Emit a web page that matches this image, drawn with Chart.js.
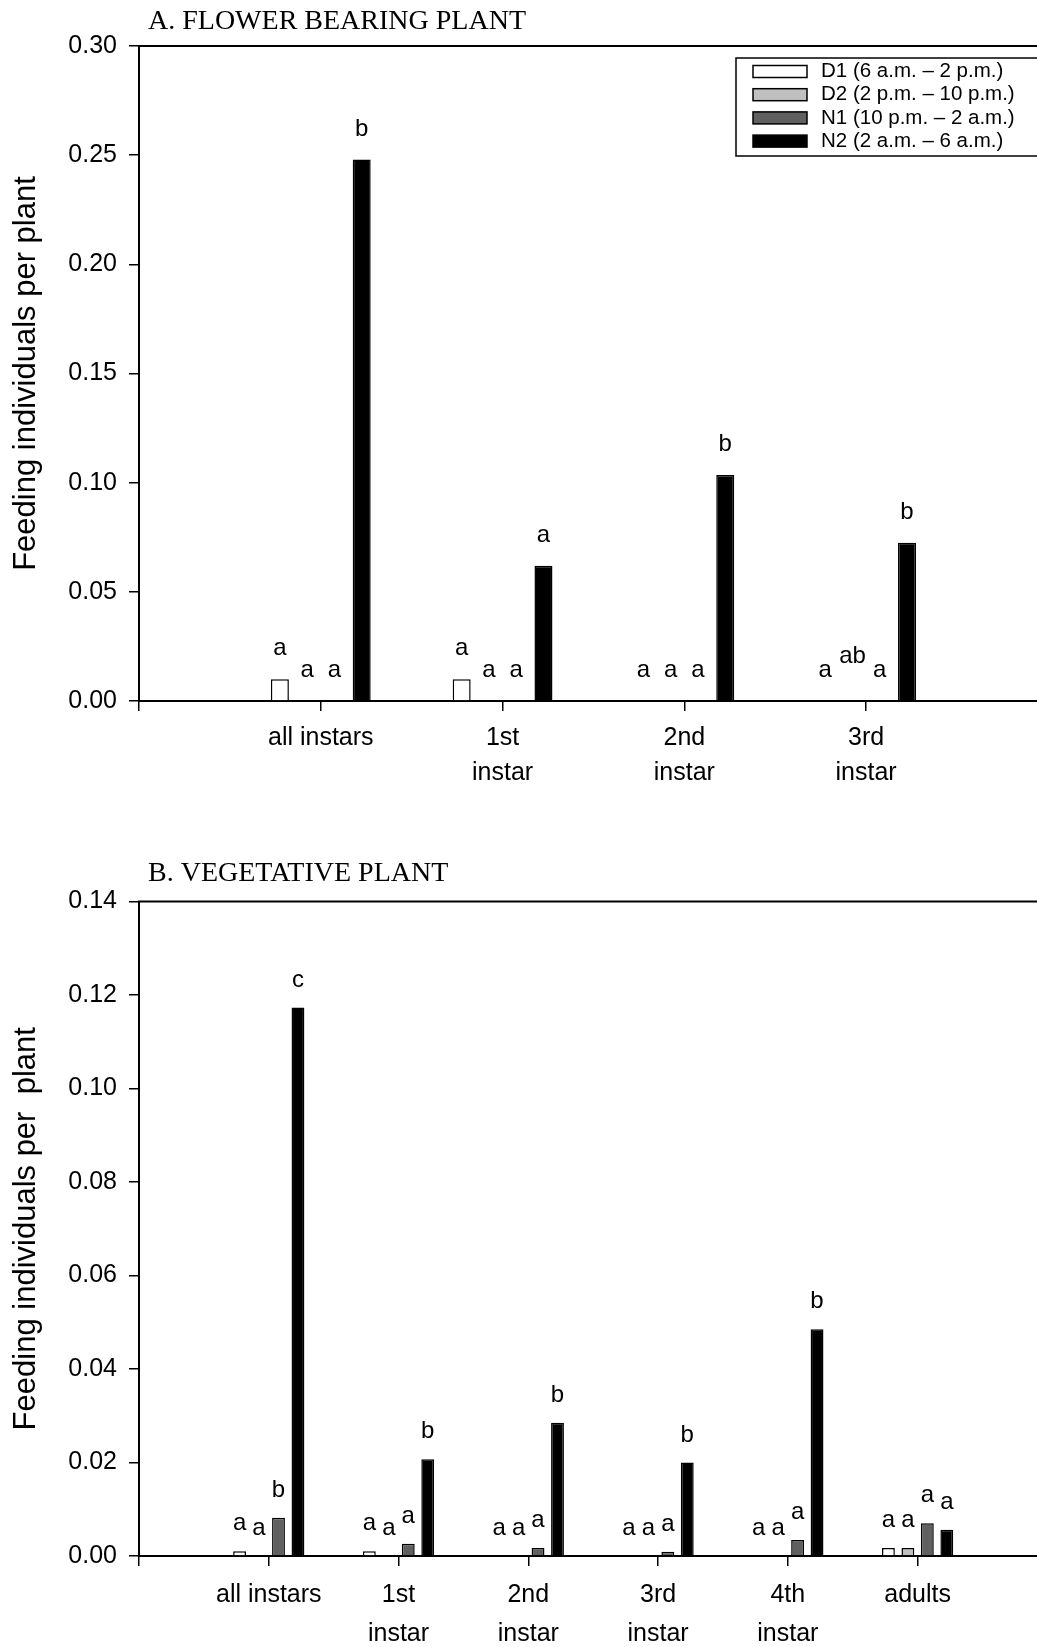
<!DOCTYPE html>
<html>
<head>
<meta charset="utf-8">
<script src="https://cdn.jsdelivr.net/npm/chart.js@4.4.0/dist/chart.umd.min.js"></script>
<style>
html, body { margin: 0; padding: 0; background: #fff; overflow: hidden; }
#wrapA { position: absolute; left: 0; top: 0; }
#wrapB { position: absolute; left: 0; top: 815px; }
</style>
</head>
<body>
<div id="wrapA"><canvas id="chartA" width="1037" height="815"></canvas></div>
<div id="wrapB"><canvas id="chartB" width="1037" height="832"></canvas></div>
<script>
'use strict';

const periods = ['D1 (6 a.m. – 2 p.m.)', 'D2 (2 p.m. – 10 p.m.)', 'N1 (10 p.m. – 2 a.m.)', 'N2 (2 a.m. – 6 a.m.)'];
const periodColors = ['#ffffff', '#c0c0c0', '#606060', '#000000'];

// A. flower bearing plant
const categoriesA = ['all instars', ['1st', 'instar'], ['2nd', 'instar'], ['3rd', 'instar']];
const d1A = [0.010, 0.010, 0, 0];
const d2A = [0, 0, 0, 0];
const n1A = [0, 0, 0, 0];
const n2A = [0.248, 0.062, 0.1035, 0.0725];
const lettersD1A = ['a', 'a', 'a', 'a'];
const lettersD2A = ['a', 'a', 'a', 'ab'];
const lettersN1A = ['a', 'a', 'a', 'a'];
const lettersN2A = ['b', 'a', 'b', 'b'];
const yTicksA = [0.00, 0.05, 0.10, 0.15, 0.20, 0.25, 0.30];

// B. vegetative plant
const categoriesB = ['all instars', ['1st', 'instar'], ['2nd', 'instar'], ['3rd', 'instar'], ['4th', 'instar'], 'adults'];
const d1B = [0.001, 0.001, 0, 0, 0, 0.0017];
const d2B = [0, 0, 0, 0, 0, 0.0017];
const n1B = [0.0082, 0.0026, 0.0017, 0.0009, 0.0034, 0.007];
const n2B = [0.1173, 0.0207, 0.0285, 0.020, 0.0485, 0.0056];
const lettersD1B = ['a', 'a', 'a', 'a', 'a', 'a'];
const lettersD2B = ['a', 'a', 'a', 'a', 'a', 'a'];
const lettersN1B = ['b', 'a', 'a', 'a', 'a', 'a'];
const lettersN2B = ['c', 'b', 'b', 'b', 'b', 'a'];
const yTicksB = [0.00, 0.02, 0.04, 0.06, 0.08, 0.10, 0.12, 0.14];

const sans = "'Liberation Sans', Arial, sans-serif";
const serif = "'Liberation Serif', 'Times New Roman', serif";

const frameTop = {
    id: 'frameTop',
    afterDraw(chart) {
        let a = chart.chartArea;
        let ctx = chart.ctx;
        ctx.save();
        ctx.strokeStyle = '#000';
        ctx.lineWidth = 2;
        ctx.beginPath();
        ctx.moveTo(a.left - 1, a.top);
        ctx.lineTo(a.right, a.top);
        ctx.stroke();
        ctx.restore();
    }
};

const panelTitle = {
    id: 'panelTitle',
    afterDraw(chart, args, opts) {
        let ctx = chart.ctx;
        ctx.save();
        ctx.fillStyle = '#000';
        ctx.font = '28px ' + serif;
        ctx.textBaseline = 'middle';
        ctx.fillText(opts.text, chart.chartArea.left + 9, chart.chartArea.top - opts.rise);
        ctx.restore();
    }
};

// significance letters above each bar; a two-letter mark sits a little higher
const barLetters = {
    id: 'barLetters',
    afterDatasetsDraw(chart, args, opts) {
        let ctx = chart.ctx;
        ctx.save();
        ctx.fillStyle = '#000';
        ctx.font = '24px ' + sans;
        ctx.textAlign = 'center';
        ctx.textBaseline = 'alphabetic';
        opts.letters.forEach((row, d) => {
            let meta = chart.getDatasetMeta(d);
            row.forEach((txt, j) => {
                let bar = meta.data[j];
                let lift = txt.length > 1 ? 14 : 0;
                ctx.fillText(txt, bar.x, bar.y - opts.gap - lift);
            });
        });
        ctx.restore();
    }
};

const boxLegend = {
    id: 'boxLegend',
    afterDraw(chart, args, opts) {
        if (!opts.show) return;
        let ctx = chart.ctx;
        let a = chart.chartArea;
        let x0 = a.right - 301;
        let y0 = a.top + 12;
        ctx.save();
        ctx.strokeStyle = '#000';
        ctx.lineWidth = 1.5;
        ctx.strokeRect(x0, y0, 320, 98);
        ctx.font = '20.5px ' + sans;
        ctx.textBaseline = 'middle';
        chart.data.datasets.forEach((ds, i) => {
            let cy = y0 + 13.5 + i * 23.2;
            ctx.fillStyle = ds.backgroundColor;
            ctx.fillRect(x0 + 17, cy - 6, 54, 12);
            ctx.lineWidth = 1.5;
            ctx.strokeRect(x0 + 17, cy - 6, 54, 12);
            ctx.fillStyle = '#000';
            ctx.fillText(ds.label, x0 + 85, cy);
        });
        ctx.restore();
    }
};

function makeChart(canvasId, cats, series, letters, yTicks, cfg) {
    let datasets = series.map((vals, i) => ({
        label: periods[i],
        data: vals.map((v, j) => ({ x: j + 1, y: v })),
        backgroundColor: periodColors[i],
        borderColor: '#000',
        borderWidth: 1.5,
        categoryPercentage: 0.6,
        barPercentage: 0.66
    }));
    let ctx = document.getElementById(canvasId).getContext('2d');
    return new Chart(ctx, {
        type: 'bar',
        data: { datasets: datasets },
        plugins: [frameTop, panelTitle, barLetters, boxLegend],
        options: {
            responsive: false,
            animation: false,
            devicePixelRatio: 1,
            layout: { padding: { top: cfg.padTop, left: 0, right: 0, bottom: 0 } },
            plugins: {
                legend: { display: false },
                tooltip: { enabled: false },
                title: { display: false },
                panelTitle: { text: cfg.title, rise: cfg.titleRise },
                barLetters: { letters: letters, gap: cfg.letterGap },
                boxLegend: { show: cfg.legend }
            },
            scales: {
                x: {
                    type: 'linear',
                    min: 0,
                    max: cfg.xMax,
                    offset: false,
                    afterFit: s => { s.height = cfg.xHeight; },
                    border: { display: true, color: '#000', width: 2 },
                    grid: { display: true, offset: false, drawOnChartArea: false, drawTicks: true, tickLength: 10, color: '#000', lineWidth: 1.5 },
                    ticks: {
                        stepSize: 1,
                        includeBounds: false,
                        autoSkip: false,
                        maxRotation: 0,
                        padding: 10,
                        color: '#000',
                        font: { family: sans, size: 25, lineHeight: cfg.xLine },
                        callback: v => (Number.isInteger(v) && v >= 1 && v <= cats.length) ? cats[v - 1] : ''
                    }
                },
                y: {
                    min: yTicks[0],
                    max: yTicks[yTicks.length - 1],
                    afterFit: s => { s.width = 139; },
                    border: { display: true, color: '#000', width: 2 },
                    grid: { drawOnChartArea: false, drawTicks: true, tickLength: 10, color: '#000', lineWidth: 1.5 },
                    ticks: {
                        stepSize: yTicks[1] - yTicks[0],
                        padding: 12,
                        color: '#000',
                        font: { family: sans, size: 25 },
                        callback: v => v.toFixed(2)
                    },
                    title: {
                        display: true,
                        text: cfg.yTitle,
                        color: '#000',
                        font: { family: sans, size: 31 },
                        padding: { top: 8, bottom: 0 }
                    }
                }
            }
        }
    });
}

makeChart('chartA', categoriesA, [d1A, d2A, n1A, n2A],
    [lettersD1A, lettersD2A, lettersN1A, lettersN2A], yTicksA, {
        title: 'A. FLOWER BEARING PLANT',
        titleRise: 24,
        padTop: 46,
        xMax: 4.94,
        xHeight: 114,
        xLine: 35 / 25,
        letterGap: 24,
        legend: true,
        yTitle: 'Feeding individuals per plant'
    });

makeChart('chartB', categoriesB, [d1B, d2B, n1B, n2B],
    [lettersD1B, lettersD2B, lettersN1B, lettersN2B], yTicksB, {
        title: 'B. VEGETATIVE PLANT',
        titleRise: 28,
        padTop: 86.5,
        xMax: 6.92,
        xHeight: 91,
        xLine: 39 / 25,
        letterGap: 21,
        legend: false,
        yTitle: 'Feeding individuals per  plant'
    });
</script>
</body>
</html>
